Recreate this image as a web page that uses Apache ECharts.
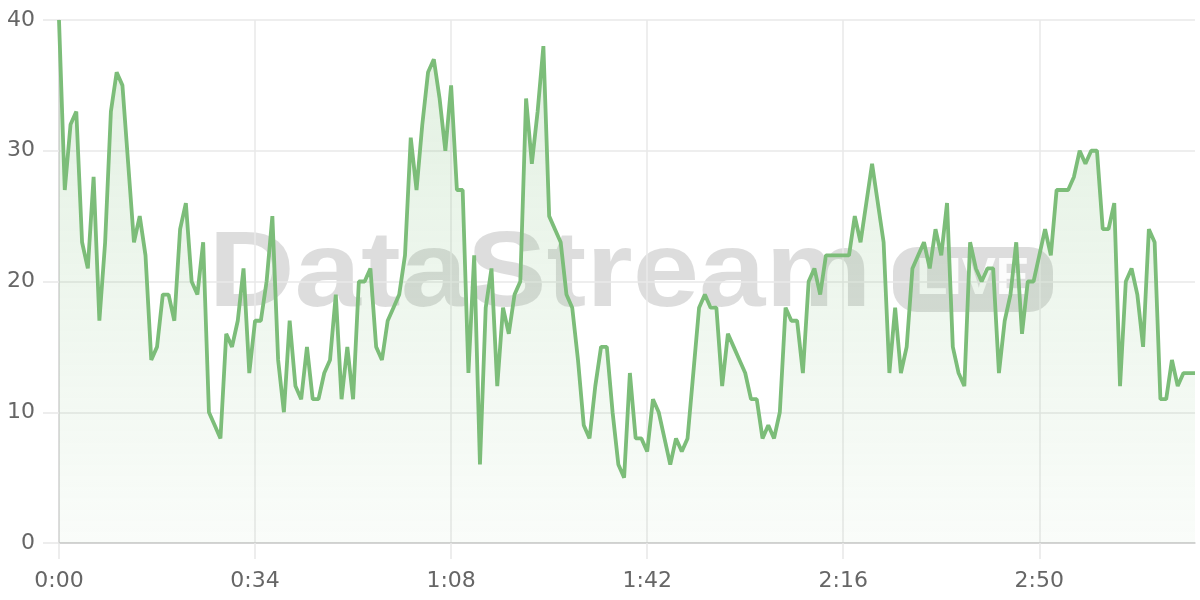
<!DOCTYPE html>
<html>
<head>
<meta charset="utf-8">
<script src="https://cdn.jsdelivr.net/npm/echarts@6/dist/echarts.min.js"></script>
<style>
  html, body { margin: 0; padding: 0; background: #fff; }
  #chart { width: 1200px; height: 600px; }
</style>
</head>
<body>
<div id="chart"></div>
<script>
// valores por segundo (0:00 .. 3:17)
const values = [
  40, 27, 32, 33, 23, 21, 28, 17, 23, 33, 36, 35, 29, 23, 25, 22, 14, 15, 19, 19,
  17, 24, 26, 20, 19, 23, 10, 9, 8, 16, 15, 17, 21, 13, 17, 17, 20, 25, 14, 10,
  17, 12, 11, 15, 11, 11, 13, 14, 19, 11, 15, 11, 20, 20, 21, 15, 14, 17, 18, 19,
  22, 31, 27, 32, 36, 37, 34, 30, 35, 27, 27, 13, 22, 6, 18, 21, 12, 18, 16, 19,
  20, 34, 29, 33, 38, 25, 24, 23, 19, 18, 14, 9, 8, 12, 15, 15, 10, 6, 5, 13,
  8, 8, 7, 11, 10, 8, 6, 8, 7, 8, 13, 18, 19, 18, 18, 12, 16, 15, 14, 13,
  11, 11, 8, 9, 8, 10, 18, 17, 17, 13, 20, 21, 19, 22, 22, 22, 22, 22, 25, 23,
  26, 29, 26, 23, 13, 18, 13, 15, 21, 22, 23, 21, 24, 22, 26, 15, 13, 12, 23, 21,
  20, 21, 21, 13, 17, 19, 23, 16, 20, 20, 22, 24, 22, 27, 27, 27, 28, 30, 29, 30,
  30, 24, 24, 26, 12, 20, 21, 19, 15, 24, 23, 11, 11, 14, 12, 13, 13, 13
];

// etiquetas de tiempo m:ss, una por punto
const timeLabels = values.map((_, i) => Math.floor(i / 60) + ':' + String(i % 60).padStart(2, '0'));

const yTicks = [0, 10, 20, 30, 40];
const labelStep = 34; // 0:00, 0:34, 1:08 ...

const lineColor = '#7cbd79';
const gridColor = '#e8e8e8';
const labelFont = 'DejaVu Sans';
const watermarkColor = 'rgba(0,0,0,0.135)';

const chart = echarts.init(document.getElementById('chart'));

chart.setOption({
  animation: false,
  grid: { left: 59, right: 5, top: 20, bottom: 57 },
  // marca de agua (debajo de la serie)
  graphic: {
    zlevel: 0,
    z: -1,
    elements: [
      {
        type: 'text',
        x: 540,
        y: 276,
        scaleX: 1.115,
        z: -1,
        zlevel: 0,
        silent: true,
        style: {
          text: 'DataStream',
          font: 'bold 107px "Liberation Sans", Arial, sans-serif',
          fill: watermarkColor,
          align: 'center',
          verticalAlign: 'middle'
        }
      },
      {
        type: 'rect',
        shape: { x: 893, y: 247, width: 160, height: 65, r: 24 },
        z: -1,
        zlevel: 0,
        silent: true,
        style: { fill: watermarkColor }
      },
      {
        type: 'text',
        x: 973,
        y: 280,
        z: -1,
        zlevel: 0,
        silent: true,
        style: {
          text: 'LIVE',
          font: 'bold 51px "Liberation Sans", Arial, sans-serif',
          fill: 'rgba(255,255,255,0.9)',
          align: 'center',
          verticalAlign: 'middle'
        }
      }
    ]
  },
  xAxis: {
    type: 'category',
    data: timeLabels,
    boundaryGap: false,
    axisLine: { lineStyle: { color: '#cccccc', width: 1.5 } },
    axisTick: { show: true, length: 16, interval: labelStep - 1, lineStyle: { color: gridColor, width: 1.5 } },
    axisLabel: { interval: labelStep - 1, margin: 27, color: '#666', fontSize: 22, fontFamily: labelFont },
    splitLine: { show: true, interval: labelStep - 1, lineStyle: { color: gridColor, width: 1.5 } }
  },
  yAxis: {
    type: 'value',
    min: yTicks[0],
    max: yTicks[yTicks.length - 1],
    interval: 10,
    axisLine: { show: true, lineStyle: { color: '#d6d6d6', width: 1.5 } },
    axisTick: { show: true, length: 16, lineStyle: { color: gridColor, width: 1.5 } },
    axisLabel: { margin: 24, color: '#666', fontSize: 22, fontFamily: labelFont },
    splitLine: { lineStyle: { color: gridColor, width: 1.5 } }
  },
  series: [
    {
      type: 'line',
      zlevel: 1,
      z: 10,
      data: values,
      symbol: 'none',
      lineStyle: { color: lineColor, width: 3.8 },
      areaStyle: {
        color: new echarts.graphic.LinearGradient(0, 0, 0, 1, [
          { offset: 0, color: 'rgba(124,189,121,0.32)' },
          { offset: 1, color: 'rgba(124,189,121,0.06)' }
        ])
      }
    }
  ]
});
</script>
</body>
</html>
